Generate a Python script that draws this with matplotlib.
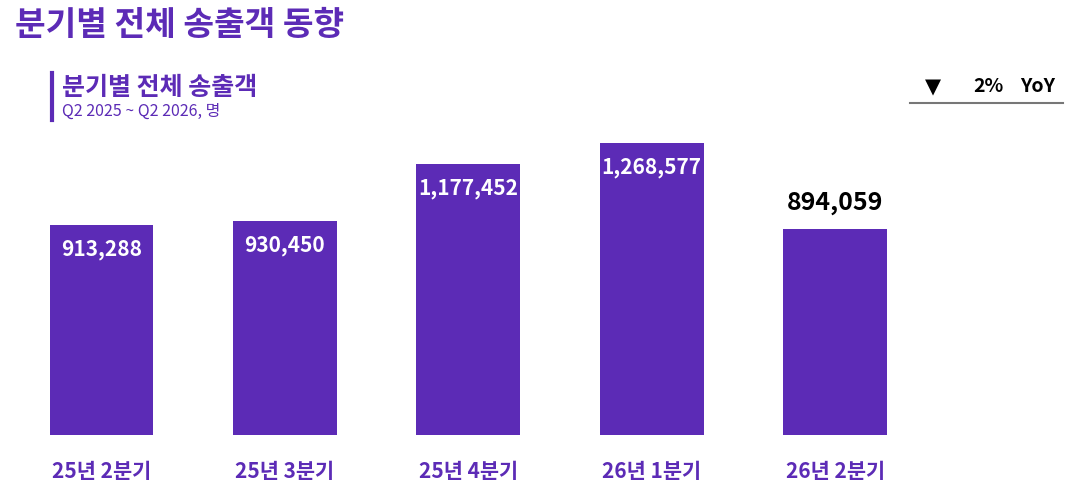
import matplotlib
matplotlib.use("Agg")
import matplotlib.pyplot as plt
import numpy as np

plt.rcParams['font.family'] = ['Noto Sans CJK KR', 'DejaVu Sans']

# --- data ---
quarters = ['25년 2분기', '25년 3분기', '25년 4분기', '26년 1분기', '26년 2분기']
passengers = [913288, 930450, 1177452, 1268577, 894059]
yoy_change = '2%'

PURPLE = '#5C2BB6'

fig = plt.figure(figsize=(10.66, 4.92), dpi=100)
ax = fig.add_axes([0, 1 - 435 / 492, 1, 305 / 492])

x = np.arange(len(quarters))
bars = ax.bar(x, passengers, width=0.565, color=PURPLE)

ax.set_xlim(-101.5 / 183.4, (1066 - 101.5) / 183.4)
ax.set_ylim(0, 1268577 * 305 / 292)

# value labels: inside the bar (white) except the latest quarter (black, above)
for i, (rect, v) in enumerate(zip(bars, passengers)):
    cx = rect.get_x() + rect.get_width() / 2
    if i == len(passengers) - 1:
        ax.annotate(f'{v:,}', xy=(cx, v), xytext=(0, 26), textcoords='offset pixels',
                    ha='center', va='center', fontsize=18, fontweight='bold', color='black')
    else:
        ax.annotate(f'{v:,}', xy=(cx, v), xytext=(0, -25), textcoords='offset pixels',
                    ha='center', va='center', fontsize=15, fontweight='bold', color='white')

ax.set_xticks(x)
ax.set_xticklabels(quarters, fontsize=15, fontweight='bold', color=PURPLE)
ax.tick_params(axis='x', length=0, pad=19)
ax.set_yticks([])
for s in ax.spines.values():
    s.set_visible(False)

# headings
fig.text(15 / 1066, 1 - 25 / 492, '분기별 전체 송출객 동향', fontsize=24, fontweight='bold',
         color=PURPLE, ha='left', va='center')
fig.text(62 / 1066, 1 - 88 / 492, '분기별 전체 송출객', fontsize=18, fontweight='bold',
         color=PURPLE, ha='left', va='center')
fig.text(62 / 1066, 1 - 111 / 492, 'Q2 2025 ~ Q2 2026, 명', fontsize=11.5,
         color=PURPLE, ha='left', va='center')
fig.add_artist(plt.Line2D([51.5 / 1066, 51.5 / 1066], [1 - 73 / 492, 1 - 120 / 492],
                          color=PURPLE, lw=3))

# YoY badge
fig.text(933 / 1066, 1 - 87 / 492, '▼', fontsize=15, color='black', ha='center', va='center',
         family=['DejaVu Sans'])
fig.text(988 / 1066, 1 - 87 / 492, yoy_change, fontsize=14, fontweight='bold', color='black',
         ha='center', va='center')
fig.text(1038 / 1066, 1 - 87 / 492, 'YoY', fontsize=14, fontweight='bold', color='black',
         ha='center', va='center')
fig.add_artist(plt.Line2D([910 / 1066, 1063 / 1066], [1 - 103 / 492, 1 - 103 / 492],
                          color='#777777', lw=1.5))

fig.savefig('out.png', dpi=100)
